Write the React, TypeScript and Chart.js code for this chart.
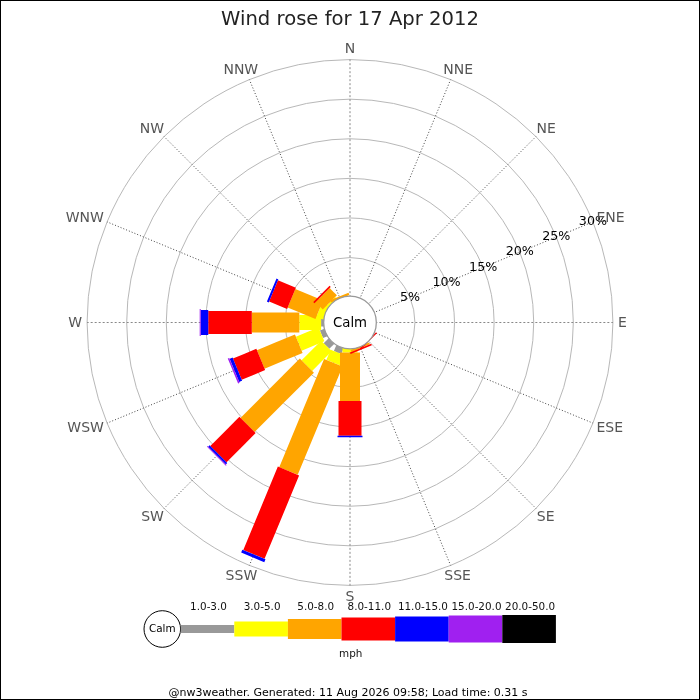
import { useEffect, useRef } from 'react';
import { Chart, registerables } from 'chart.js';

Chart.register(...registerables);

// compass points, clockwise from north
const DIRS = ['N', 'NNE', 'NE', 'ENE', 'E', 'ESE', 'SE', 'SSE', 'S', 'SSW', 'SW', 'WSW', 'W', 'WNW', 'NW', 'NNW'];
const SPEED_BINS = ['1.0-3.0', '3.0-5.0', '5.0-8.0', '8.0-11.0', '11.0-15.0', '15.0-20.0', '20.0-50.0'];
const RING_TICKS = [5, 10, 15, 20, 25, 30];

// frequency (%) per direction, one array per speed band
//                 N  NNE NE ENE E ESE SE    SSE   S     SSW   SW    WSW   W     WNW   NW    NNW
const PCT_1_3 =   [0, 0, 0, 0, 0, 0, 0,    0,    0,    0.9,  1.0,  0.7,  0.45, 0,    0,    0];
const PCT_3_5 =   [0, 0, 0, 0, 0, 0, 0,    0.05, 0.6,  1.4,  3.5,  3.1,  2.75, 1.0,  0.4,  0.05];
const PCT_5_8 =   [0, 0, 0, 0, 0, 0, 0,    0.25, 6.1,  14.8, 10.6, 5.2,  6.0,  3.8,  1.3,  0.3];
const PCT_8_11 =  [0, 0, 0, 0, 0, 0, 0.15, 0.2, 4.4,  11.4, 5.2,  3.2,  5.5,  2.45, 0.2,  0];
const PCT_11_15 = [0, 0, 0, 0, 0, 0, 0,    0,    0.2,  0.4,  0.25, 0.4,  0.95, 0.25, 0,    0];
const PCT_15_20 = [0, 0, 0, 0, 0, 0, 0,    0,    0,    0,    0.12, 0.2,  0.13, 0,    0,    0];
const PCT_20_50 = [0, 0, 0, 0, 0, 0, 0,    0,    0,    0,    0,    0,    0,    0,    0,    0];

const BIN_VALUES = [PCT_1_3, PCT_3_5, PCT_5_8, PCT_8_11, PCT_11_15, PCT_15_20, PCT_20_50];
const BIN_COLORS = ['#999999', '#ffff00', '#ffa500', '#ff0000', '#0000ff', '#a020f0', '#000000'];
const BIN_WIDTHS = [8, 15, 20, 23, 25, 27, 28];

const TITLE = 'Wind rose for 17 Apr 2012';
const UNIT = 'mph';
const FOOTER = '@nw3weather. Generated: 11 Aug 2026 09:58; Load time: 0.31 s';

const CALM_OFFSET = 3.2; // radius of the calm circle, in % units
const AXIS_MAX = 36.62;
const FONT = '"DejaVu Sans", "Liberation Sans", sans-serif';

const rad = (deg: number) => (deg * Math.PI) / 180;
const toXY = (r: number, deg: number) => ({ x: r * Math.sin(rad(deg)), y: r * Math.cos(rad(deg)) });

const roseDecor = {
  id: 'roseDecor',
  beforeDraw(chart: Chart) {
    const ctx = chart.ctx;
    ctx.save();
    ctx.fillStyle = '#fff';
    ctx.fillRect(0, 0, chart.width, chart.height);
    ctx.restore();
  },
  beforeDatasetsDraw(chart: Chart) {
    const ctx = chart.ctx;
    const xs = chart.scales.x;
    const ys = chart.scales.y;
    const cx = xs.getPixelForValue(0);
    const cy = ys.getPixelForValue(0);
    const rpx = (v: number) => xs.getPixelForValue(v) - cx;
    const outer = CALM_OFFSET + RING_TICKS[RING_TICKS.length - 1];
    ctx.save();
    // rings
    ctx.strokeStyle = '#b8b8b8';
    ctx.lineWidth = 1;
    RING_TICKS.forEach((t) => {
      ctx.beginPath();
      ctx.arc(cx, cy, rpx(CALM_OFFSET + t), 0, Math.PI * 2);
      ctx.stroke();
    });
    // spokes
    DIRS.forEach((_, i) => {
      const deg = i * 22.5;
      const cardinal = i % 4 === 0;
      const a = toXY(CALM_OFFSET, deg);
      const b = toXY(outer, deg);
      ctx.beginPath();
      ctx.setLineDash(cardinal ? [2, 2] : [1, 2]);
      ctx.strokeStyle = cardinal ? '#888' : '#444';
      ctx.lineWidth = 1;
      ctx.moveTo(xs.getPixelForValue(a.x), ys.getPixelForValue(a.y));
      ctx.lineTo(xs.getPixelForValue(b.x), ys.getPixelForValue(b.y));
      ctx.stroke();
    });
    ctx.restore();
  },
  afterDatasetsDraw(chart: Chart) {
    const ctx = chart.ctx;
    const xs = chart.scales.x;
    const ys = chart.scales.y;
    const cx = xs.getPixelForValue(0);
    const cy = ys.getPixelForValue(0);
    const rpx = (v: number) => xs.getPixelForValue(v) - cx;
    const outer = CALM_OFFSET + RING_TICKS[RING_TICKS.length - 1];
    ctx.save();

    // calm circle
    ctx.beginPath();
    ctx.arc(cx, cy, rpx(CALM_OFFSET) + 1, 0, Math.PI * 2);
    ctx.fillStyle = '#fff';
    ctx.fill();
    ctx.strokeStyle = '#999';
    ctx.lineWidth = 1.3;
    ctx.stroke();
    ctx.fillStyle = '#000';
    ctx.font = `13.3px ${FONT}`;
    ctx.textAlign = 'center';
    ctx.textBaseline = 'middle';
    ctx.fillText('Calm', cx, cy + 1);

    // ring labels along ENE
    ctx.font = `12.7px ${FONT}`;
    RING_TICKS.forEach((t) => {
      const p = toXY(CALM_OFFSET + t, 67.5);
      ctx.fillText(`${t}%`, xs.getPixelForValue(p.x), ys.getPixelForValue(p.y));
    });

    // compass labels
    ctx.font = `14px ${FONT}`;
    ctx.fillStyle = '#555';
    const anchor = rpx(outer) + 5;
    DIRS.forEach((d, i) => {
      const deg = i * 22.5;
      const w = ctx.measureText(d).width;
      const x = cx + anchor * Math.sin(rad(deg)) + Math.sin(rad(deg)) * w / 2;
      const y = cy - anchor * Math.cos(rad(deg)) - Math.cos(rad(deg)) * 6;
      ctx.fillText(d, x, y + 1);
    });

    // title
    ctx.fillStyle = '#222';
    ctx.font = `19.6px ${FONT}`;
    ctx.textBaseline = 'alphabetic';
    ctx.fillText(TITLE, 350, 24.5);

    // speed legend
    const ly = 629;
    const segLen = 53.6;
    const lx0 = 180.7;
    ctx.beginPath();
    ctx.arc(162.3, ly, 18.3, 0, Math.PI * 2);
    ctx.fillStyle = '#fff';
    ctx.fill();
    ctx.strokeStyle = '#000';
    ctx.lineWidth = 1;
    ctx.stroke();
    ctx.fillStyle = '#000';
    ctx.font = `10.4px ${FONT}`;
    ctx.textBaseline = 'middle';
    ctx.fillText('Calm', 162.3, ly + 0.5);
    SPEED_BINS.forEach((label, k) => {
      const x = lx0 + k * segLen;
      ctx.fillStyle = BIN_COLORS[k];
      ctx.fillRect(x, ly - BIN_WIDTHS[k] / 2, segLen, BIN_WIDTHS[k]);
      ctx.fillStyle = '#111';
      ctx.fillText(label, x + segLen / 2 + 1, 607);
    });
    ctx.fillText(UNIT, 350.7, 654);

    // footer
    ctx.font = `11px ${FONT}`;
    ctx.fillStyle = '#000';
    ctx.fillText(FOOTER, 348, 693);

    // frame
    ctx.strokeStyle = '#000';
    ctx.lineWidth = 1;
    ctx.strokeRect(0.5, 0.5, chart.width - 1, chart.height - 1);
    ctx.restore();
  },
};

export default function App() {
  const canvasRef = useRef<HTMLCanvasElement>(null);

  useEffect(() => {
    if (!canvasRef.current) return;
    const datasets: any[] = [];
    DIRS.forEach((_, d) => {
      const deg = d * 22.5;
      let r = CALM_OFFSET;
      BIN_VALUES.forEach((vals, k) => {
        const v = vals[d];
        if (!v) return;
        datasets.push({
          label: `${DIRS[d]} ${SPEED_BINS[k]}`,
          data: [toXY(r, deg), toXY(r + v, deg)],
          borderColor: BIN_COLORS[k],
          backgroundColor: BIN_COLORS[k],
          borderWidth: BIN_WIDTHS[k],
          borderCapStyle: 'butt',
          borderJoinStyle: 'bevel',
          // a tiny tension keeps chart.js off its pixel-column fast path,
          // which mangles very short segments
          tension: 0.0001,
          showLine: true,
          fill: false,
          pointRadius: 0,
          pointHoverRadius: 0,
          order: BIN_VALUES.length - k,
        });
        r += v;
      });
    });

    const chart = new Chart(canvasRef.current, {
      type: 'scatter',
      data: { datasets },
      options: {
        animation: false,
        responsive: false,
        events: [],
        layout: { padding: { left: 60, right: 60, top: 32.5, bottom: 87.5 } },
        plugins: {
          legend: { display: false },
          title: { display: false },
          tooltip: { enabled: false },
        },
        scales: {
          x: { type: 'linear', min: -AXIS_MAX, max: AXIS_MAX, display: false },
          y: { type: 'linear', min: -AXIS_MAX, max: AXIS_MAX, display: false },
        },
      },
      plugins: [roseDecor],
    });
    return () => { chart.destroy(); };
  }, []);

  return (
    <div style={{ position: 'absolute', left: 0, top: 0, width: 700, height: 700 }}>
      <canvas ref={canvasRef} width={700} height={700} style={{ display: 'block' }} />
    </div>
  );
}
